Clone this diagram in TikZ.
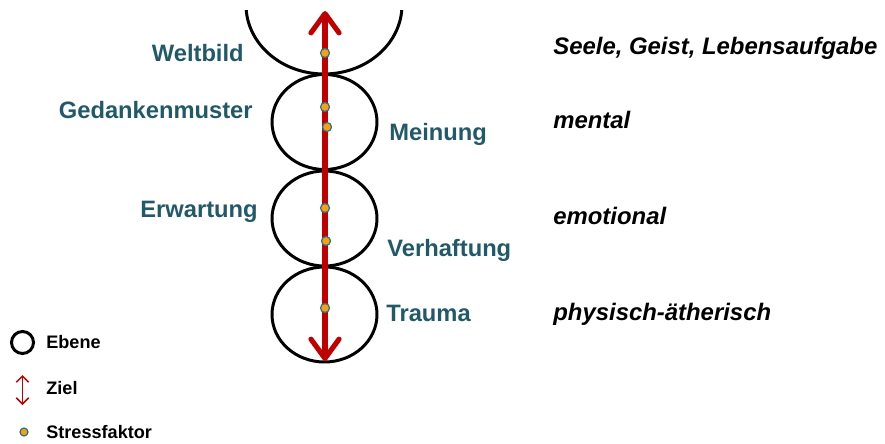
\documentclass[tikz,border=0pt]{standalone}
\usepackage{fontspec}
\setmainfont{Liberation Sans}
\usepackage{xcolor}
\usepackage{tikz}
\usetikzlibrary{
  positioning, shapes, shapes.geometric,
  arrows, arrows.meta
}
\definecolor{lvlteal}{HTML}{215968}
\definecolor{zielred}{HTML}{C00000}
\definecolor{stressor}{HTML}{F7A012}
\definecolor{stressrim}{HTML}{31718A}
\tikzset{
  ebene/.style={
    ellipse, draw=black, line width=1.7pt, inner sep=0pt
  },
  zielarrow/.style={
    draw=zielred, line width=2.9pt,
    {Straight Barb[length=11pt, width=16pt, round]}-{Straight Barb[length=11pt, width=16pt, round]}
  },
  stress/.style={
    circle, fill=stressor, draw=stressrim, line width=0.7pt,
    inner sep=0pt, minimum size=0.18cm
  },
  lvllabel/.style={
    text=lvlteal, inner sep=0pt,
    font=\fontsize{13.5}{16}\selectfont\bfseries
  },
  planelabel/.style={
    text=black, inner sep=0pt, anchor=base west,
    font=\fontsize{13.6}{16}\selectfont\bfseries\itshape
  },
  legendtext/.style={
    inner sep=0pt, anchor=base west,
    font=\fontsize{10.3}{12}\selectfont\bfseries
  }
}

\begin{document}
\begin{tikzpicture}[x=0.02cm, y=-0.02cm]
\useasboundingbox (0,0) rectangle (885,443);

%% ── Ebenen ───────────────────────────────────────────────────
\begin{scope}
  \clip (0,10) rectangle (885,443);
  \node[ebene, minimum width=3.12cm, minimum height=2.76cm] (seele) at (324,5) {};
\end{scope}
\node[ebene, minimum width=2.10cm, minimum height=1.90cm] (mental) at (324.5,122) {};
\node[ebene, minimum width=2.10cm, minimum height=1.90cm] (emotional) at (324.5,218.5) {};
\node[ebene, minimum width=2.10cm, minimum height=1.90cm] (physisch) at (324.5,314.5) {};

%% ── Ziel-Pfeil ───────────────────────────────────────────────
\coordinate (ziel-oben) at (325,11);
\coordinate (ziel-unten) at (325,361);
\draw[zielarrow] (ziel-oben) -- (ziel-unten);

%% ── Stressfaktoren ───────────────────────────────────────────
\node[stress] (s-weltbild) at (325,53) {};
\node[stress] (s-gedanken) at (325,107) {};
\node[stress] (s-meinung) at (327,127) {};
\node[stress] (s-erwartung) at (325,208) {};
\node[stress] (s-verhaftung) at (326,241) {};
\node[stress] (s-trauma) at (325,308) {};

%% ── Beschriftungen links/rechts ──────────────────────────────
\node[lvllabel, anchor=base east] (weltbild) at (244,61) {Weltbild};
\node[lvllabel, anchor=base east] (gedanken) at (253,118) {Gedankenmuster};
\node[lvllabel, anchor=base west] (meinung) at (389,140) {Meinung};
\node[lvllabel, anchor=base east] (erwartung) at (258,217) {Erwartung};
\node[lvllabel, anchor=base west] (verhaftung) at (387,256) {Verhaftung};
\node[lvllabel, anchor=base west] (trauma) at (386,321) {Trauma};

%% ── Ebenen-Namen ─────────────────────────────────────────────
\node[planelabel] (n-seele) at (553,54) {Seele, Geist, Lebensaufgabe};
\node[planelabel] (n-mental) at (553,128) {mental};
\node[planelabel] (n-emotional) at (553,224) {emotional};
\node[planelabel] (n-physisch) at (553,320) {physisch-ätherisch};

%% ── Legende ──────────────────────────────────────────────────
\node[circle, draw=black, line width=1.7pt, inner sep=0pt,
      minimum size=0.44cm] (leg-ebene) at (22.5,342.5) {};
\node[legendtext] at (46,348) {Ebene};

\coordinate (leg-ziel-a) at (22.5,375);
\coordinate (leg-ziel-b) at (22.5,405);
\draw[draw=zielred, line width=0.9pt,
      {Straight Barb[length=3.5pt, width=7pt]}-{Straight Barb[length=3.5pt, width=7pt]}]
  (leg-ziel-a) -- (leg-ziel-b);
\node[legendtext] at (46,394) {Ziel};

\node[stress, minimum size=0.16cm] (leg-stress) at (24,432) {};
\node[legendtext] at (46,438) {Stressfaktor};

\end{tikzpicture}
\end{document}
